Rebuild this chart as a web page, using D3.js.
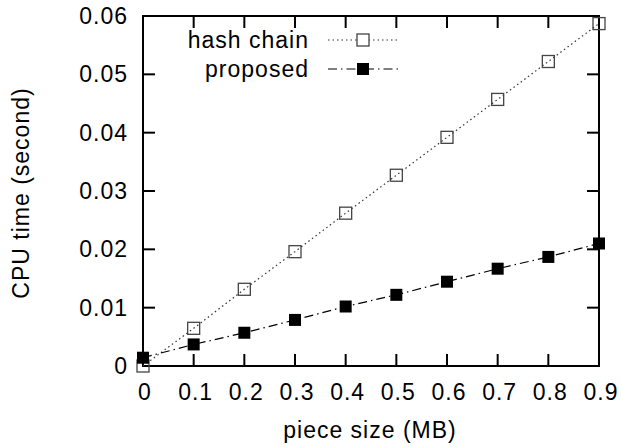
<!DOCTYPE html>
<html><head><meta charset="utf-8">
<script src="https://cdn.jsdelivr.net/npm/d3@7"></script>
<style>
body{margin:0;background:#fff}
text{font-family:"Liberation Sans",Arial,sans-serif;font-size:23px;letter-spacing:1px;fill:#000}
</style></head>
<body><svg id="c" width="621" height="447"></svg>
<script>
const xValues = [0,0.1,0.2,0.3,0.4,0.5,0.6,0.7,0.8,0.9];
const hashChain = [0,0.00646,0.01315,0.0196,0.0262,0.0327,0.0392,0.0457,0.0522,0.0587];
const proposed = [0.00142,0.0037,0.0057,0.0079,0.0102,0.0122,0.01445,0.01668,0.0187,0.021];
const xTicks = [0,0.1,0.2,0.3,0.4,0.5,0.6,0.7,0.8,0.9];
const yTicks = [0,0.01,0.02,0.03,0.04,0.05,0.06];
const seriesNames = ["hash chain","proposed"];

const L=143, R=599, T=16, B=366;
const svg=d3.select("#c");
const x=d3.scaleLinear().domain([0,0.9]).range([L,R]);
const y=d3.scaleLinear().domain([0,0.06]).range([B,T]);
const tl=12;
const ax=svg.append("g").attr("stroke","#000").attr("stroke-width",2);
xTicks.forEach(v=>{
  ax.append("line").attr("x1",x(v)).attr("x2",x(v)).attr("y1",B).attr("y2",B-tl);
  ax.append("line").attr("x1",x(v)).attr("x2",x(v)).attr("y1",T).attr("y2",T+tl);
});
yTicks.forEach(v=>{
  ax.append("line").attr("x1",L).attr("x2",L+tl).attr("y1",y(v)).attr("y2",y(v));
  ax.append("line").attr("x1",R).attr("x2",R-tl).attr("y1",y(v)).attr("y2",y(v));
});
ax.append("rect").attr("x",L).attr("y",T).attr("width",R-L).attr("height",B-T).attr("fill","none");

const fmt=v=>String(+v.toFixed(2));
svg.append("g").selectAll("text").data(xTicks).join("text")
  .attr("x",d=>x(d)+2).attr("y",400).attr("text-anchor","middle").text(fmt);
svg.append("g").selectAll("text").data(yTicks).join("text")
  .attr("x",128).attr("y",d=>y(d)+8).attr("text-anchor","end").text(fmt);
svg.append("text").attr("x",(L+R)/2-1).attr("y",438).attr("text-anchor","middle").text("piece size (MB)");
svg.append("text").attr("transform","translate(29,193) rotate(-90)").attr("text-anchor","middle").text("CPU time (second)");

const line=d3.line().x((d,i)=>x(xValues[i])).y(d=>y(d));
svg.append("path").datum(hashChain).attr("d",line).attr("fill","none").attr("stroke","#333").attr("stroke-width",1.2).attr("stroke-dasharray","1.5,3");
svg.append("path").datum(proposed).attr("d",line).attr("fill","none").attr("stroke","#000").attr("stroke-width",1.2).attr("stroke-dasharray","9,4,1.5,4");
const s=12;
svg.append("g").selectAll("rect").data(hashChain).join("rect")
  .attr("x",(d,i)=>x(xValues[i])-s/2).attr("y",d=>y(d)-s/2).attr("width",s).attr("height",s)
  .attr("fill","none").attr("stroke","#444").attr("stroke-width",1.3);
svg.append("g").selectAll("rect").data(proposed).join("rect")
  .attr("x",(d,i)=>x(xValues[i])-s/2).attr("y",d=>y(d)-s/2).attr("width",s).attr("height",s)
  .attr("fill","#000");

// legend
const lg=svg.append("g");
[[seriesNames[0],40,"#333","1.5,3",false],[seriesNames[1],69,"#000","9,4,1.5,4",true]].forEach(([n,yy,c,da,f])=>{
  lg.append("text").attr("x",309).attr("y",yy+8).attr("text-anchor","end").text(n);
  lg.append("line").attr("x1",328).attr("x2",398).attr("y1",yy).attr("y2",yy).attr("stroke",c).attr("stroke-width",1.2).attr("stroke-dasharray",da);
  lg.append("rect").attr("x",363-s/2).attr("y",yy-s/2).attr("width",s).attr("height",s)
    .attr("fill",f?"#000":"#fff").attr("stroke",f?"none":"#444").attr("stroke-width",1.3);
});
</script></body></html>
